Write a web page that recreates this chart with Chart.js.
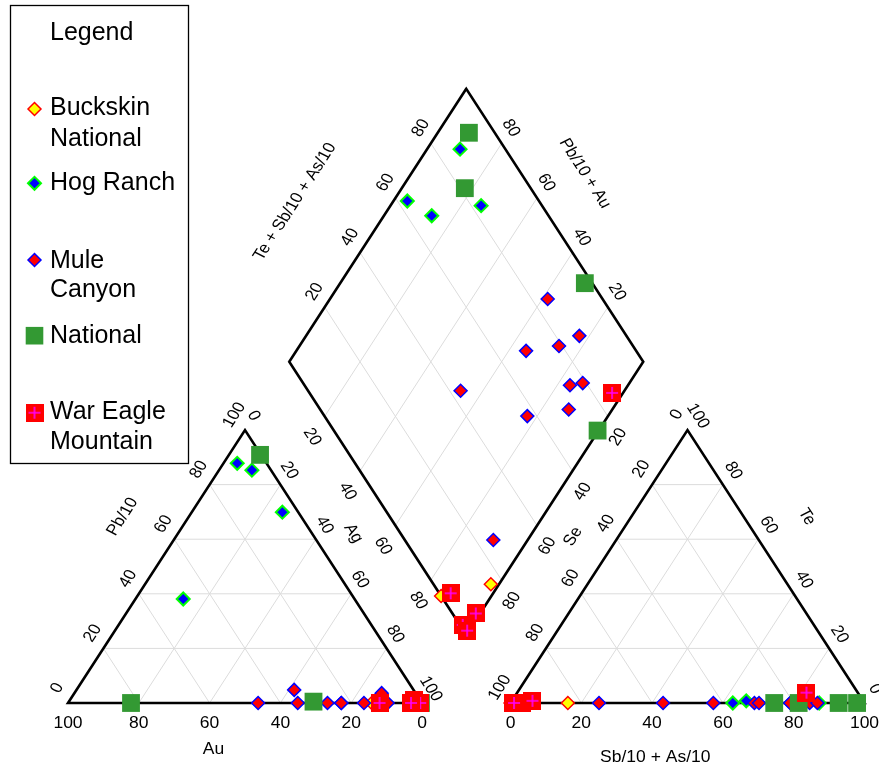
<!DOCTYPE html>
<html>
<head>
<meta charset="utf-8">
<script src="https://cdn.jsdelivr.net/npm/chart.js@4/dist/chart.umd.min.js"></script>
<style>
html,body{margin:0;padding:0;background:#ffffff;}
canvas{display:block;}
</style>
</head>
<body>
<canvas id="c" width="879" height="769"></canvas>
<script>
// ---------------- DATA ----------------
const seriesNames = ['Buckskin National', 'Hog Ranch', 'Mule Canyon', 'National', 'War Eagle Mountain'];
const legendLines = [['Buckskin', 'National'], ['Hog Ranch'], ['Mule', 'Canyon'], ['National'], ['War Eagle', 'Mountain']];

// Cations (%): Ag and Pb/10 ; Au = 100 - Ag - Pb/10
// Anions (%): Se and Te ; Sb/10 + As/10 = 100 - Se - Te
const buckskinAg = [97.7, 85.8];
const buckskinPb = [0, 0];
const buckskinSe = [83.8, 100];
const buckskinTe = [0, 0];

const hogAg = [9.3, 3.9, 13.5, 25.6];
const hogPb = [85.3, 87.8, 38.1, 69.9];
const hogSe = [12.8, 37.2, 33.0, 17.2];
const hogTe = [0, 0, 0.8, 0];

const muleAg = [61.5, 64.9, 73.3, 77.2, 83.6, 86.8, 87.7, 77.2, 53.7, 90.3];
const mulePb = [4.8, 0, 0, 0, 0, 3.6, 0, 0, 0, 0];
const muleSe = [15.5, 31.1, 20.9, 13.3, 25.0, 21.0, 29.8, 42.7, 56.9, 75.0];
const muleTe = [0, 0, 0, 0, 0, 0, 0, 0, 0, 0];

const nationalAg = [8.8, 17.8, 69.1, 99.7];
const nationalPb = [90.9, 0, 0.5, 0];
const nationalSe = [7.3, 18.6, 2.1, 25.5];
const nationalTe = [0, 0, 0, 0];

const warEagleAg = [88.0, 98.8, 97.2, 99.5, 96.9];
const warEaglePb = [0, 0, 1.1, 0, 0];
const warEagleSe = [96.8, 93.4, 99.2, 99.0, 14.5];
const warEagleTe = [0, 0.8, 0, 0, 3.8];

const triangleTicks = [0, 20, 40, 60, 80, 100];
const diamondTicks = [20, 40, 60, 80];
const gridLevels = [20, 40, 60, 80];

// ---------------- GEOMETRY (ternary -> cartesian) ----------------
const H = Math.sqrt(3) / 2;
const GAP = 25;
const RIGHT_X0 = 100 + GAP;
const DB = { x: 100 + GAP / 2, y: (GAP / 2) * Math.sqrt(3) };

function leftXY(ag, pb) { return { x: ag + pb / 2, y: pb * H }; }
function rightXY(se, te) { const sb = 100 - se - te; return { x: RIGHT_X0 + sb + te / 2, y: te * H }; }
function diamondXY(ag, se) { return { x: DB.x + (ag - se) / 2, y: DB.y + H * (200 - ag - se) }; }

function seriesPoints(ag, pb, se, te) {
  const pts = [];
  for (let i = 0; i < ag.length; i++) pts.push(leftXY(ag[i], pb[i]));
  for (let i = 0; i < se.length; i++) pts.push(rightXY(se[i], te[i]));
  for (let i = 0; i < ag.length; i++) pts.push(diamondXY(ag[i], se[i]));
  return pts;
}

// ---------------- DATASETS ----------------
const datasets = [];
const GRID_COLOR = '#dcdcdc';
function addLine(points, color, width, order) {
  datasets.push({
    data: points, showLine: true, borderColor: color, borderWidth: width,
    pointRadius: 0, pointHoverRadius: 0, fill: false, tension: 0,
    borderJoinStyle: 'miter', borderCapStyle: 'butt', order: order
  });
}
gridLevels.forEach(k => {
  addLine([leftXY(0, k), leftXY(100 - k, k)], GRID_COLOR, 1, 30);
  addLine([leftXY(k, 0), leftXY(k, 100 - k)], GRID_COLOR, 1, 30);
  addLine([leftXY(100 - k, 0), leftXY(0, 100 - k)], GRID_COLOR, 1, 30);
  addLine([rightXY(100 - k, k), rightXY(0, k)], GRID_COLOR, 1, 30);
  addLine([rightXY(k, 0), rightXY(k, 100 - k)], GRID_COLOR, 1, 30);
  addLine([rightXY(100 - k, 0), rightXY(0, 100 - k)], GRID_COLOR, 1, 30);
  addLine([diamondXY(k, 0), diamondXY(k, 100)], GRID_COLOR, 1, 30);
  addLine([diamondXY(0, k), diamondXY(100, k)], GRID_COLOR, 1, 30);
});
// outlines (first two vertices repeated so every corner is mitred)
const lt = [leftXY(0, 0), leftXY(100, 0), leftXY(0, 100)];
const rt = [rightXY(100, 0), rightXY(0, 0), rightXY(0, 100)];
const dm = [diamondXY(0, 100), diamondXY(0, 0), diamondXY(100, 0), diamondXY(100, 100)];
addLine([...lt, lt[0], lt[1]], '#000000', 2.6, 20);
addLine([...rt, rt[0], rt[1]], '#000000', 2.6, 20);
addLine([...dm, dm[0], dm[1]], '#000000', 2.6, 20);

function makeWarEagleIcon() {
  const c = document.createElement('canvas');
  c.width = 18; c.height = 18;
  const g = c.getContext('2d');
  g.fillStyle = '#ff0000'; g.fillRect(0, 0, 18, 18);
  g.strokeStyle = '#ff00ff'; g.lineWidth = 1.6;
  g.beginPath(); g.moveTo(9, 3); g.lineTo(9, 15); g.moveTo(3, 9); g.lineTo(15, 9); g.stroke();
  return c;
}
const warEagleIcon = makeWarEagleIcon();

datasets.push({ label: seriesNames[0], data: seriesPoints(buckskinAg, buckskinPb, buckskinSe, buckskinTe),
  pointStyle: 'rectRot', pointRadius: 6.5, backgroundColor: '#ffff00', borderColor: '#ff0000', borderWidth: 1.5, order: 5 });
datasets.push({ label: seriesNames[1], data: seriesPoints(hogAg, hogPb, hogSe, hogTe),
  pointStyle: 'rectRot', pointRadius: 6.5, backgroundColor: '#0000ff', borderColor: '#00ff00', borderWidth: 2, order: 4 });
datasets.push({ label: seriesNames[2], data: seriesPoints(muleAg, mulePb, muleSe, muleTe),
  pointStyle: 'rectRot', pointRadius: 6.5, backgroundColor: '#ff0000', borderColor: '#0000ff', borderWidth: 1.5, order: 3 });
datasets.push({ label: seriesNames[3], data: seriesPoints(nationalAg, nationalPb, nationalSe, nationalTe),
  pointStyle: 'rect', pointRadius: 12.6, backgroundColor: '#339933', borderColor: '#339933', borderWidth: 0, order: 2 });
datasets.push({ label: seriesNames[4], data: seriesPoints(warEagleAg, warEaglePb, warEagleSe, warEagleTe),
  pointStyle: warEagleIcon, pointRadius: 9, backgroundColor: '#ff0000', borderColor: '#ff00ff', borderWidth: 0, order: 1 });

// ---------------- TEXT / LEGEND PLUGIN ----------------
const FONT = '"Liberation Sans", Arial, Helvetica, sans-serif';
const textPlugin = {
  id: 'piperText',
  afterDraw(chart) {
    const ctx = chart.ctx;
    const xs = chart.scales.x, ys = chart.scales.y;
    const P = p => ({ x: xs.getPixelForValue(p.x), y: ys.getPixelForValue(p.y) });
    // vertical squash of the plot relative to an equilateral drawing
    const pxX = Math.abs(xs.getPixelForValue(100) - xs.getPixelForValue(0));
    const pxY = Math.abs(ys.getPixelForValue(100) - ys.getPixelForValue(0));
    const squash = pxY / pxX;
    const UP = -Math.PI / 3, DOWN = Math.PI / 3;

    function txt(text, x, y, rot, size) {
      ctx.save();
      ctx.translate(x, y);
      ctx.scale(1, squash);
      ctx.rotate(rot);
      ctx.font = size + 'px ' + FONT;
      ctx.fillStyle = '#000000';
      ctx.textAlign = 'center';
      ctx.textBaseline = 'middle';
      ctx.fillText(text, 0, 0);
      ctx.restore();
    }
    const FS = 17.5;
    function tick(text, dataPt, dx, dy, rot) {
      const p = P(dataPt);
      txt(text, p.x + dx, p.y + dy, rot, FS);
    }
    triangleTicks.forEach(v => {
      tick(String(v), leftXY(100 - v, 0), 0, 21, 0);          // Au
      tick(String(v), leftXY(0, v), -10.7, -15, UP);          // Pb/10
      tick(String(v), leftXY(v, 100 - v), 8.7, -14.2, DOWN);  // Ag
      tick(String(v), rightXY(100 - v, 0), 0, 21, 0);         // Sb/10 + As/10
      tick(String(v), rightXY(v, 100 - v), -10.7, -15.5, UP); // Se
      tick(String(v), rightXY(0, v), 10.3, -14, DOWN);        // Te
    });
    diamondTicks.forEach(v => {
      tick(String(v), diamondXY(0, 100 - v), -10, -15.3, UP);   // Te + Sb/10 + As/10
      tick(String(v), diamondXY(100 - v, 0), 9.2, -15.3, DOWN); // Pb/10 + Au
      tick(String(v), diamondXY(v, 100), -12.5, 20.5, DOWN);    // Ag (lower left)
      tick(String(v), diamondXY(100, v), 10.3, 20.6, UP);       // Se (lower right)
    });
    const T = (text, x, y, rot) => { const p = P({ x: x, y: y }); txt(text, p.x, p.y, rot, FS); };
    T('Au', 41.1, -14.9, 0);
    T('Sb/10 + As/10', 165.9, -17.4, 0);
    T('Pb/10', 15.4, 59.1, UP);
    T('Ag', 80.6, 53.8, DOWN);
    T('Se', 142.7, 52.8, UP);
    T('Te', 208.7, 59.1, DOWN);
    T('Te + Sb/10 + As/10', 64.1, 159.0, UP);
    T('Pb/10 + Au', 146.0, 168.0, DOWN);

    // legend box
    ctx.save();
    ctx.strokeStyle = '#000000';
    ctx.lineWidth = 1.3;
    ctx.strokeRect(10.5, 5.5, 178, 458);
    ctx.font = '25px ' + FONT;
    ctx.fillStyle = '#000000';
    ctx.textAlign = 'left';
    ctx.textBaseline = 'alphabetic';
    ctx.fillText('Legend', 50, 39.5);
    const baselines = [[115, 145.7], [190], [268.3, 297], [342.7], [419.3, 449]];
    const markerY = [109, 183.3, 260, 335.7, 412.7];
    legendLines.forEach((lines, i) => {
      lines.forEach((ln, j) => ctx.fillText(ln, 50, baselines[i][j]));
      const ds = chart.data.datasets.find(d => d.label === seriesNames[i]);
      const mx = 34.5, my = markerY[i];
      if (ds.pointStyle === 'rectRot') {
        ctx.beginPath();
        ctx.moveTo(mx - 6.5, my); ctx.lineTo(mx, my - 6.5); ctx.lineTo(mx + 6.5, my); ctx.lineTo(mx, my + 6.5); ctx.closePath();
        ctx.fillStyle = ds.backgroundColor; ctx.fill();
        ctx.lineWidth = ds.borderWidth; ctx.strokeStyle = ds.borderColor; ctx.stroke();
        ctx.fillStyle = '#000000';
      } else if (ds.pointStyle === 'rect') {
        ctx.fillStyle = ds.backgroundColor;
        ctx.fillRect(mx - 8.8, my - 8.8, 17.6, 17.6);
        ctx.fillStyle = '#000000';
      } else {
        ctx.drawImage(ds.pointStyle, mx - 9, my - 9);
      }
    });
    ctx.restore();
  }
};

new Chart(document.getElementById('c'), {
  type: 'scatter',
  data: { datasets: datasets },
  options: {
    responsive: false,
    animation: false,
    devicePixelRatio: 1,
    events: [],
    layout: { padding: 0, autoPadding: false },
    plugins: { legend: { display: false }, tooltip: { enabled: false }, title: { display: false } },
    scales: {
      x: { type: 'linear', display: false, min: -68 / 3.54, max: (879 - 68) / 3.54 },
      y: { type: 'linear', display: false, min: -66 / 3.152, max: 703 / 3.152 }
    }
  },
  plugins: [textPlugin]
});
</script>
</body>
</html>
